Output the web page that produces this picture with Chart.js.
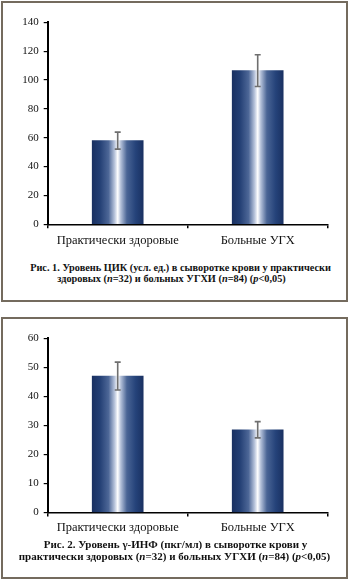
<!DOCTYPE html>
<html><head><meta charset="utf-8">
<script src="https://cdn.jsdelivr.net/npm/chart.js@4"></script>
<style>
html,body{margin:0;padding:0;background:#fff;width:350px;height:581px;overflow:hidden;}
.box{position:absolute;border:2px solid #746b5e;box-sizing:border-box;}
canvas{position:absolute;left:0;}
.cap{position:absolute;width:350px;text-align:center;font-family:'Liberation Serif',serif;font-weight:bold;color:#111;white-space:nowrap;}
</style></head>
<body>
<div class="box" style="left:1px;top:1px;width:347px;height:301px;"></div>
<div class="box" style="left:1px;top:317px;width:347px;height:262px;"></div>
<canvas id="c1" width="350" height="260" style="top:0px"></canvas>
<canvas id="c2" width="350" height="224" style="top:316px"></canvas>
<div class="cap" id="cap1a" style="left:5.5px;top:261.5px;font-size:10.3px;line-height:12px;"></div>
<div class="cap" id="cap1b" style="left:-3.5px;top:273.1px;font-size:10.3px;line-height:12px;"></div>
<div class="cap" id="cap2a" style="left:0.5px;top:537.5px;font-size:11px;line-height:13px;"></div>
<div class="cap" id="cap2b" style="left:-0.5px;top:550.2px;font-size:11px;line-height:13px;"></div>
<script>
const categories = ['Практически здоровые', 'Больные УГХ'];
const cicValues = [58, 106.5];
const cicErrors = [5.9, 11];
const cicTicks = [0, 20, 40, 60, 80, 100, 120, 140];
const infValues = [47, 28.5];
const infErrors = [4.8, 2.8];
const infTicks = [0, 10, 20, 30, 40, 50, 60];
const caption1 = ['Рис. 1. Уровень ЦИК (усл. ед.) в сыворотке крови у практически', 'здоровых (<i>n</i>=32) и больных УГХИ (<i>n</i>=84) (<i>p</i>&lt;0,05)'];
const caption2 = ['Рис. 2. Уровень γ-ИНФ (пкг/мл) в сыворотке крови у', 'практически здоровых (<i>n</i>=32) и больных УГХИ (<i>n</i>=84) (<i>p</i>&lt;0,05)'];

document.getElementById('cap1a').innerHTML = caption1[0];
document.getElementById('cap1b').innerHTML = caption1[1];
document.getElementById('cap2a').innerHTML = caption2[0];
document.getElementById('cap2b').innerHTML = caption2[1];

const SERIF = "'Liberation Serif', 'Times New Roman', serif";
const BAR_W = 51;
function barGradient(ctx) {
  const chart = ctx.chart;
  const xs = chart.scales && chart.scales.x;
  if (!xs || !chart.chartArea) return '#1e3766';
  const cx = xs.getPixelForValue(ctx.dataIndex);
  const g = chart.ctx.createLinearGradient(cx - BAR_W/2, 0, cx + BAR_W/2, 0);
  g.addColorStop(0, '#1a3162');
  g.addColorStop(0.15, '#233f74');
  g.addColorStop(0.32, '#4d6797');
  g.addColorStop(0.44, '#b9c5dc');
  g.addColorStop(0.5, '#ffffff');
  g.addColorStop(0.56, '#b4c1d9');
  g.addColorStop(0.68, '#4a6595');
  g.addColorStop(0.85, '#25437a');
  g.addColorStop(1, '#1a3162');
  return g;
}

const errorBarPlugin = {
  id: 'errbars',
  afterDatasetsDraw(chart, args, opts) {
    const c = chart.ctx, xs = chart.scales.x, ys = chart.scales.y;
    const vals = chart.data.datasets[0].data;
    c.save();
    c.strokeStyle = '#6f6f6f';
    c.lineWidth = 1.6;
    vals.forEach((v, i) => {
      const e = opts.errors[i];
      const x = xs.getPixelForValue(i);
      const yt = ys.getPixelForValue(v + e), yb = ys.getPixelForValue(v - e);
      c.beginPath();
      c.moveTo(x, yt); c.lineTo(x, yb);
      c.moveTo(x - 3, yt); c.lineTo(x + 3, yt);
      c.moveTo(x - 3, yb); c.lineTo(x + 3, yb);
      c.stroke();
    });
    c.restore();
  }
};

function makeChart(id, values, errors, ticks, pad, xHeight, labelPad) {
  const step = ticks[1] - ticks[0];
  return new Chart(document.getElementById(id), {
    type: 'bar',
    data: { labels: categories, datasets: [{ data: values, backgroundColor: barGradient, barThickness: BAR_W, borderWidth: 0 }] },
    plugins: [errorBarPlugin],
    options: {
      responsive: false, animation: false,
      layout: { padding: pad },
      plugins: { legend: { display: false }, tooltip: { enabled: false }, errbars: { errors: errors } },
      scales: {
        x: {
          afterFit(s) { s.height = xHeight; },
          border: { display: true, color: '#000', width: 1.5 },
          grid: { display: true, drawOnChartArea: false, drawTicks: true, tickLength: 4, color: '#000', lineWidth: 1.5, offset: true },
          ticks: { color: '#111', padding: labelPad, font: { family: SERIF, size: 12.5 } }
        },
        y: {
          min: ticks[0], max: ticks[ticks.length - 1],
          afterFit(s) { s.width = 47.7; },
          afterBuildTicks(s) { s.ticks = ticks.map(v => ({ value: v })); },
          border: { display: true, color: '#000', width: 2 },
          grid: { display: true, drawOnChartArea: false, drawTicks: true, tickLength: 4, color: '#000', lineWidth: 1.2 },
          ticks: { stepSize: step, color: '#111', padding: 5, font: { family: SERIF, size: 11 } }
        }
      }
    }
  });
}

makeChart('c1', cicValues, cicErrors, cicTicks, { left: 0, top: 22.3, right: 22.3, bottom: 5.7 }, 30, 5);
makeChart('c2', infValues, infErrors, infTicks, { left: 0, top: 22.3, right: 22.3, bottom: 1.5 }, 26, 3.5);
</script>
</body></html>
